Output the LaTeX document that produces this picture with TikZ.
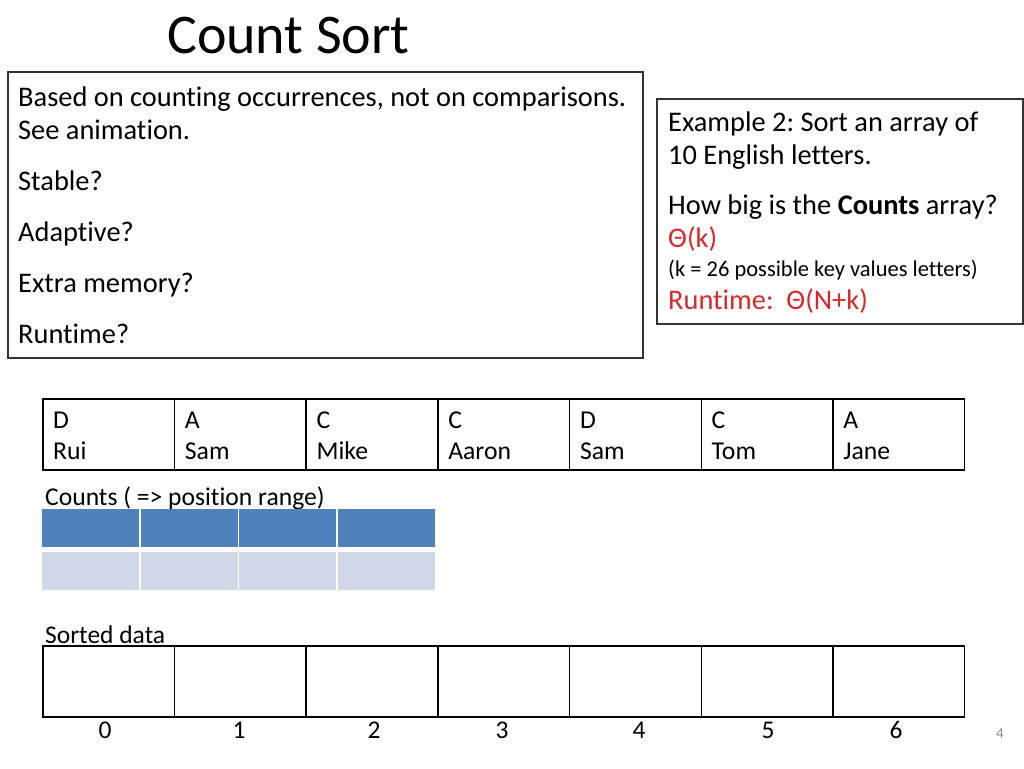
\documentclass[tikz,border=0pt]{standalone}
\usepackage{fontspec}
\setmainfont[Ligatures={NoCommon}]{Carlito}
\frenchspacing
\definecolor{darkblue}{HTML}{4F81BD}
\definecolor{lightblue}{HTML}{D0D8E8}
\definecolor{redtxt}{HTML}{D42A2A}
\begin{document}
\begin{tikzpicture}[x=1pt,y=-1pt,
  txt/.style={anchor=base west,inner sep=0pt,font=\fontsize{28.4}{32}\selectfont},
  celltxt/.style={anchor=base west,inner sep=0pt,font=\fontsize{25.7}{30}\selectfont},
  cell/.style={draw=black,line width=1.5pt,minimum width=131.7pt,minimum height=71pt,inner sep=0pt},
  box/.style={draw=black!80,line width=1.2pt},
  cnt/.style={minimum width=97pt,minimum height=38pt,inner sep=0pt}]
\useasboundingbox[fill=white] (0,0) rectangle (1024,768);
% title
\node[anchor=base west,inner sep=0pt,font=\fontsize{56}{64}\selectfont] (title) at (167,53) {Count Sort};
% left box
\draw[box] (8,72) rectangle (643,358);
\node[txt] (l1) at (18,106) {Based on counting occurrences, not on comparisons.};
\node[txt] (l2) at (18,139) {See animation.};
\node[txt] (l3) at (18,190) {Stable?};
\node[txt] (l4) at (18,241) {Adaptive?};
\node[txt] (l5) at (18,292) {Extra memory?};
\node[txt] (l6) at (18,343) {Runtime?};
% right box
\draw[box] (657,99) rectangle (1023,324);
\node[txt] (r1) at (668,131) {Example 2: Sort an array of};
\node[txt] (r2) at (668,164) {10 English letters.};
\node[txt] (r3) at (668,214) {How big is the \textbf{Counts} array?};
\node[txt,text=redtxt] (r4) at (668,247) {Θ(k)};
\node[anchor=base west,inner sep=0pt,font=\fontsize{22.5}{26}\selectfont] (r5) at (668,276) {(k = 26 possible key values letters)};
\node[txt,text=redtxt] (r6) at (668,309) {Runtime:\ \ Θ(N+k)};
% top array
\foreach \i/\a/\b in {0/D/Rui,1/A/Sam,2/C/Mike,3/C/Aaron,4/D/Sam,5/C/Tom,6/A/Jane}{
  \node[cell,anchor=north west] (t\i) at ({42+131.7*\i},398) {};
  \node[celltxt] (ta\i) at ({53+131.7*\i},428) {\a};
  \node[celltxt] (tb\i) at ({53+131.7*\i},459) {\b};
}
% counts
\node[anchor=base west,inner sep=0pt,font=\fontsize{25.6}{30}\selectfont] (counts) at (45,505) {Counts ( => position range)};
\foreach \i in {0,1,2,3}{
  \node[cnt,fill=darkblue,anchor=north west] (ca\i) at ({42+98.5*\i},509) {};
  \node[cnt,fill=lightblue,anchor=north west] (cb\i) at ({42+98.5*\i},552) {};
}
% sorted data
\node[anchor=base west,inner sep=0pt,font=\fontsize{25.5}{30}\selectfont] (sorted) at (45,643) {Sorted data};
\foreach \i in {0,...,6}{
  \node[cell,anchor=north west] (s\i) at ({42+131.7*\i},645) {};
}
\foreach \i/\x in {0/105,1/239,2/374,3/502,4/639,5/768,6/896}{
  \node[anchor=base,inner sep=0pt,font=\fontsize{25.5}{30}\selectfont] (n\i) at (\x,738) {\i};
}
\node[anchor=base,inner sep=0pt,text=black!45,font=\fontsize{15}{18}\selectfont] (page) at (1000,738) {4};
\end{tikzpicture}
\end{document}
